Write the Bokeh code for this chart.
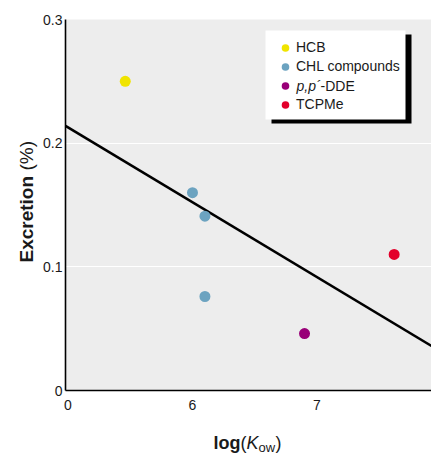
import math
from bokeh.plotting import figure
from bokeh.models import (Range1d, FixedTicker, Legend, LegendItem, Label, BoxAnnotation)
from bokeh.embed import file_html
from bokeh.resources import INLINE

# ---- data ----
hcb_x = [5.46]
hcb_y = [0.250]
chl_x = [6.00, 6.10, 6.10]
chl_y = [0.160, 0.141, 0.076]
dde_x = [6.90]
dde_y = [0.046]
tcp_x = [7.62]
tcp_y = [0.110]
fit_x = [4.98, 7.92]
fit_y = [0.214, 0.036]

x_ticks = [5, 6, 7]
x_tick_labels = ["0", "6", "7"]
y_ticks = [0, 0.1, 0.2, 0.3]
y_tick_labels = ["0", "0.1", "0.2", "0.3"]

series_names = ["HCB", "CHL compounds", "p,p\u00b4-DDE", "TCPMe"]
colors = ["#f0e400", "#6ca3c0", "#990078", "#e3002b"]

# ---- layout (canvas pixel geometry of the plot area) ----
W, H = 431, 456
X0, X1 = 4.98, 7.92          # plotted x span
Y0, Y1 = 0.0, 0.3            # plotted y span
FL, FR, FT, FB = 65, 431, 19, 390


def dx(px):
    return X0 + (px - FL) * (X1 - X0) / (FR - FL)


def dy(py):
    return Y0 + (FB - py) * (Y1 - Y0) / (FB - FT)


p = figure(width=W, height=H, output_backend="svg", toolbar_location=None,
           x_range=Range1d(dx(0), dx(W)), y_range=Range1d(dy(H), dy(0)),
           min_border=0)
p.background_fill_color = "white"
p.border_fill_color = "white"
p.outline_line_color = None

# grey plotting area
p.add_layout(BoxAnnotation(left=X0, right=X1, bottom=Y0, top=Y1,
                           fill_color="#ededed", fill_alpha=1.0, line_color=None,
                           level="image"))

TXT = "#1a1a1a"
FONT = "Liberation Sans"

# axes, fixed at the edges of the plotting area
for ax in (p.xaxis[0], p.yaxis[0]):
    ax.axis_line_color = "black"
    ax.axis_line_width = 1.6
    ax.major_tick_out = 0
    ax.major_tick_in = 0
    ax.minor_tick_line_color = None
    ax.major_label_text_font = FONT
    ax.major_label_text_font_size = "14px"
    ax.major_label_text_color = TXT

p.xaxis[0].fixed_location = Y0
p.xaxis[0].bounds = (X0, X1)
p.xaxis[0].ticker = FixedTicker(ticks=x_ticks)
p.xaxis[0].major_label_overrides = {t: l for t, l in zip(x_ticks, x_tick_labels)}
p.xaxis[0].major_label_standoff = 9
p.yaxis[0].fixed_location = X0
p.yaxis[0].bounds = (Y0, Y1)
p.yaxis[0].ticker = FixedTicker(ticks=y_ticks)
p.yaxis[0].major_label_overrides = {t: l for t, l in zip(y_ticks, y_tick_labels)}
p.yaxis[0].major_label_standoff = 3

p.xgrid.grid_line_color = None
p.ygrid[0].ticker = FixedTicker(ticks=[0.1, 0.2])
p.ygrid.grid_line_color = "white"
p.ygrid.grid_line_width = 1.2

# regression line
p.line(fit_x, fit_y, line_color="black", line_width=2.6)

# points
r_hcb = p.scatter(hcb_x, hcb_y, size=11, fill_color=colors[0], line_color=None)
r_chl = p.scatter(chl_x, chl_y, size=11, fill_color=colors[1], line_color=None)
r_dde = p.scatter(dde_x, dde_y, size=11, fill_color=colors[2], line_color=None)
r_tcp = p.scatter(tcp_x, tcp_y, size=11, fill_color=colors[3], line_color=None)

# legend box with drop shadow
p.add_layout(BoxAnnotation(left=dx(271), right=dx(411), top=dy(34), bottom=dy(123),
                           fill_color="black", fill_alpha=1.0, line_color=None,
                           level="guide"))
p.add_layout(BoxAnnotation(left=dx(265), right=dx(405), top=dy(30), bottom=dy(119),
                           fill_color="white", fill_alpha=1.0, line_color=None,
                           level="guide"))

legend = Legend(items=[
    LegendItem(label=series_names[0], renderers=[r_hcb]),
    LegendItem(label=series_names[1], renderers=[r_chl]),
    LegendItem(label=" ", renderers=[r_dde]),
    LegendItem(label=series_names[3], renderers=[r_tcp]),
], location=(275, H - 113.5))
legend.background_fill_alpha = 0.0
legend.border_line_color = None
legend.padding = 0
legend.margin = 0
legend.spacing = 0
legend.label_height = 19
legend.glyph_height = 19
legend.glyph_width = 20
legend.label_standoff = 1
legend.label_text_font = FONT
legend.label_text_font_size = "14px"
legend.label_text_color = TXT
p.add_layout(legend, "center")

# DDE legend label with italic p,p´
p.add_layout(Label(x=dx(296), y=dy(85), text="p,p\u00b4", text_font=FONT,
                   text_font_style="italic", text_font_size="14px", text_color=TXT,
                   text_baseline="middle", text_align="left"))
p.add_layout(Label(x=dx(320), y=dy(85), text="-DDE", text_font=FONT,
                   text_font_size="14px", text_color=TXT,
                   text_baseline="middle", text_align="left"))

# y-axis title (rotated)
p.add_layout(Label(x=dx(26), y=dy(262), text="Excretion", angle=math.pi / 2,
                   text_font=FONT, text_font_style="bold",
                   text_font_size="19px", text_color=TXT,
                   text_align="left", text_baseline="middle"))
p.add_layout(Label(x=dx(26), y=dy(170), text="(%)", angle=math.pi / 2,
                   text_font=FONT,
                   text_font_size="19px", text_color=TXT,
                   text_align="left", text_baseline="middle"))

# x-axis title log(K_ow)
p.add_layout(Label(x=dx(213), y=dy(442), text="log", text_font=FONT,
                   text_font_style="bold", text_font_size="18px", text_color=TXT,
                   text_align="left", text_baseline="middle"))
p.add_layout(Label(x=dx(240), y=dy(442), text="(", text_font=FONT,
                   text_font_size="18px", text_color=TXT,
                   text_align="left", text_baseline="middle"))
p.add_layout(Label(x=dx(246), y=dy(442), text="K", text_font=FONT,
                   text_font_style="italic", text_font_size="18px", text_color=TXT,
                   text_align="left", text_baseline="middle"))
p.add_layout(Label(x=dx(258), y=dy(447), text="ow", text_font=FONT,
                   text_font_size="13px", text_color=TXT,
                   text_align="left", text_baseline="middle"))
p.add_layout(Label(x=dx(275), y=dy(442), text=")", text_font=FONT,
                   text_font_size="18px", text_color=TXT,
                   text_align="left", text_baseline="middle"))

open("out.html", "w").write(file_html(p, INLINE))
